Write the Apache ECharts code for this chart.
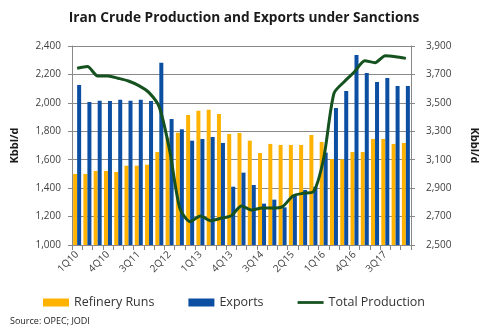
<!DOCTYPE html>
<html>
<head>
<meta charset="utf-8">
<script src="https://cdn.jsdelivr.net/npm/echarts@6/dist/echarts.min.js"></script>
<style>html,body{margin:0;padding:0;background:#fff}#c{width:488px;height:336px}</style>
</head>
<body>
<div id="c"></div>
<script>
var categories = ['1Q10','2Q10','3Q10','4Q10','1Q11','2Q11','3Q11','4Q11','1Q12','2Q12','3Q12','4Q12',
  '1Q13','2Q13','3Q13','4Q13','1Q14','2Q14','3Q14','4Q14','1Q15','2Q15','3Q15','4Q15',
  '1Q16','2Q16','3Q16','4Q16','1Q17','2Q17','3Q17','4Q17','1Q18'];
var refineryRuns = [1500,1500,1521,1521,1514,1558,1558,1565,1654,1755,1790,1915,1945,1952,1922,1781,
  1788,1734,1647,1711,1704,1704,1704,1774,1725,1605,1603,1654,1654,1746,1746,1711,1718];
var exportsData = [2126,2006,2015,2013,2022,2015,2022,2013,2283,1886,1814,1734,1746,1760,1718,1410,
  1509,1422,1291,1319,1265,1345,1387,1410,1650,1964,2083,2337,2210,2147,2175,2119,2119];
var totalProduction = [3743,3755,3689,3689,3673,3654,3621,3572,3470,3168,2758,2664,2704,2671,2688,2706,
  2775,2746,2760,2760,2770,2845,2864,2875,3110,3567,3649,3719,3797,3783,3832,3825,3813];
var leftTicks = {min:1000, max:2400, interval:200};
var rightTicks = {min:2500, max:3900, interval:200};

var chart = echarts.init(document.getElementById('c'));
var F = 'Open Sans';
chart.setOption({
  animation:false,
  title:{text:'Iran Crude Production and Exports under Sanctions', left:'center', top:6,
    textStyle:{fontFamily:F, fontWeight:'bold', fontSize:13.7, color:'#1a1a1a'}},
  grid:{left:72, right:71, top:46, bottom:91},
  legend:{left:38, top:291, itemWidth:26, itemHeight:8, itemGap:34,
    textStyle:{fontFamily:F, fontSize:12.5, color:'#333'},
    data:[{name:'Refinery Runs', icon:'rect'},{name:'Exports', icon:'rect'},
      {name:'Total Production', icon:'path://M0 0 H30 V3.2 H0 Z'}]},
  graphic:[{type:'text', left:10, top:317, style:{text:'Source: OPEC; JODI', font:'9px "Open Sans"', fill:'#222'}}],
  xAxis:{type:'category', data:categories, boundaryGap:true,
    axisLine:{lineStyle:{color:'#888'}},
    axisTick:{show:true, interval:0, length:5, lineStyle:{color:'#888'}},
    axisLabel:{interval:2, rotate:45, fontFamily:F, fontSize:10, color:'#404040', margin:8}},
  yAxis:[
    {type:'value', min:leftTicks.min, max:leftTicks.max, interval:leftTicks.interval, position:'left',
     name:'Kbbl/d', nameLocation:'middle', nameGap:52,
     nameTextStyle:{fontFamily:F, fontWeight:'bold', fontSize:11, color:'#1a1a1a'},
     axisLine:{show:true, lineStyle:{color:'#888'}},
     axisTick:{show:true, length:4, lineStyle:{color:'#888'}},
     axisLabel:{fontFamily:F, fontSize:10, color:'#404040', margin:11,
       formatter:function(v){return v.toLocaleString('en-US');}},
     splitLine:{lineStyle:{color:'#8a8a8a', width:1}}},
    {type:'value', min:rightTicks.min, max:rightTicks.max, interval:rightTicks.interval, position:'right',
     name:'Kbbl/d', nameLocation:'middle', nameGap:58, nameRotate:-90,
     nameTextStyle:{fontFamily:F, fontWeight:'bold', fontSize:11, color:'#1a1a1a'},
     axisLine:{show:true, lineStyle:{color:'#888'}},
     axisTick:{show:true, length:4, lineStyle:{color:'#888'}},
     axisLabel:{fontFamily:F, fontSize:10, color:'#404040', margin:15,
       formatter:function(v){return v.toLocaleString('en-US');}},
     splitLine:{show:false}}
  ],
  series:[
    {name:'Refinery Runs', type:'bar', data:refineryRuns, barWidth:4, barGap:'0%',
     itemStyle:{color:'#FFB300'}},
    {name:'Exports', type:'bar', data:exportsData, barWidth:4, barGap:'0%',
     itemStyle:{color:'#0B4EA2'}},
    {name:'Total Production', type:'line', yAxisIndex:1, data:totalProduction, smooth:0.25,
     symbol:'none', lineStyle:{color:'#15521f', width:3}, itemStyle:{color:'#15521f'}}
  ]
});
</script>
</body>
</html>
